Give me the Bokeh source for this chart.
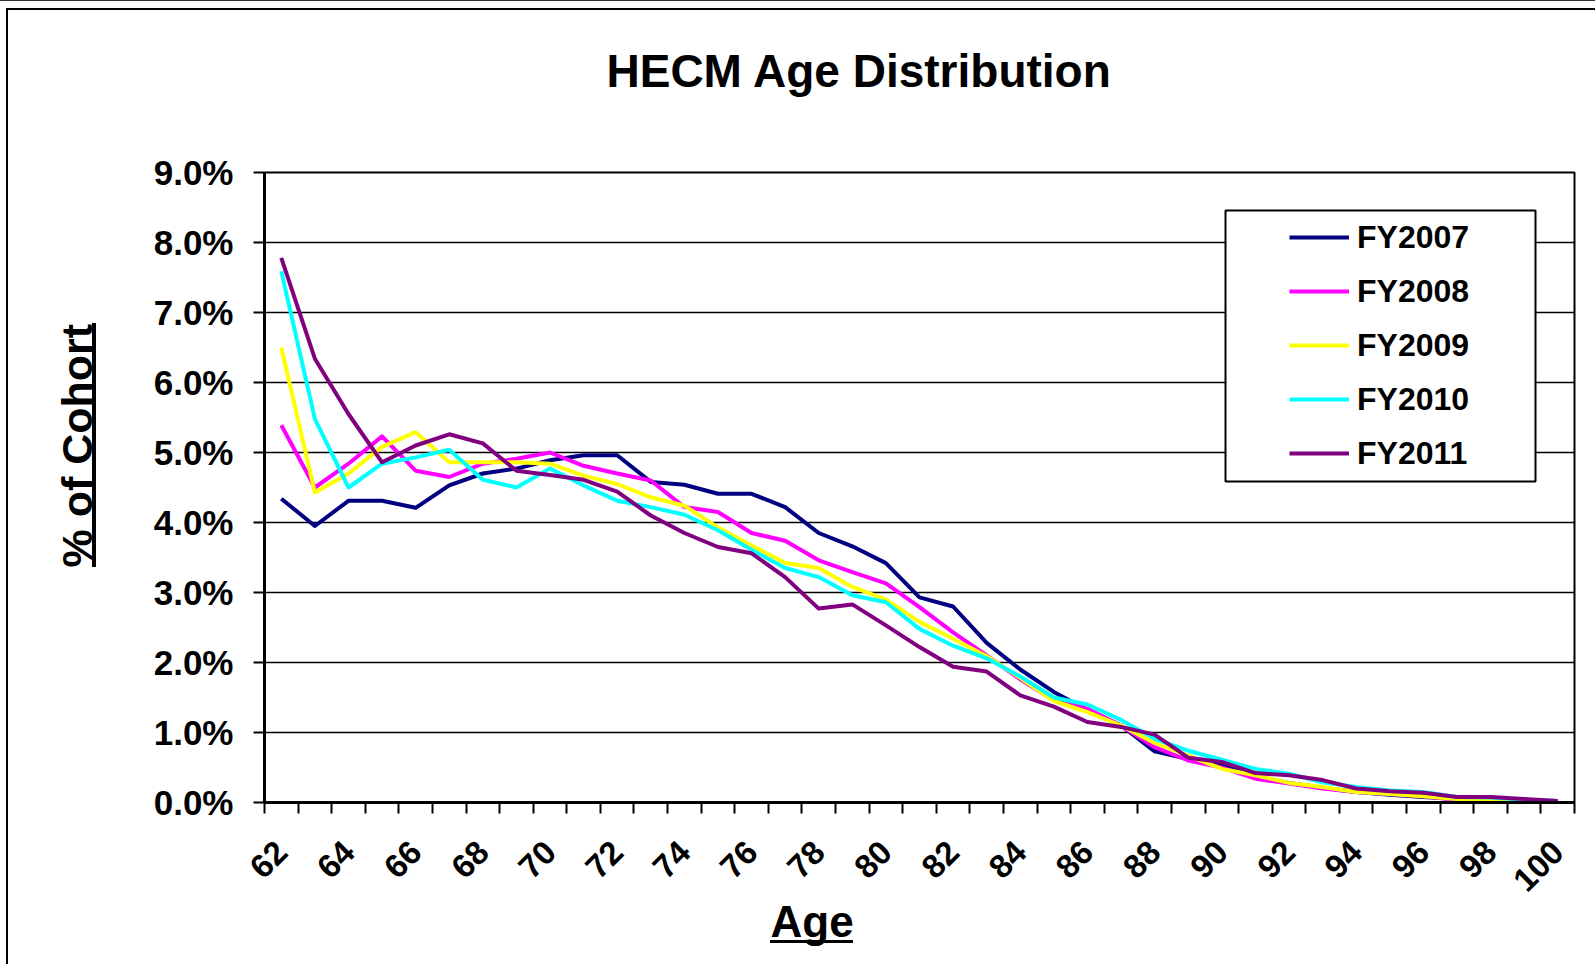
import math
from bokeh.plotting import figure
from bokeh.models import (Range1d, FixedTicker, PrintfTickFormatter, Title,
                          BoxAnnotation, Legend, LegendItem)
from bokeh.embed import file_html
from bokeh.resources import INLINE

# ---------------- data ----------------
ages = list(range(62, 101))
fy2007 = [4.34, 3.95, 4.31, 4.31, 4.21, 4.53, 4.70, 4.77, 4.89, 4.96,
          4.96, 4.58, 4.54, 4.41, 4.41, 4.22, 3.85, 3.66, 3.42, 2.93,
          2.80, 2.28, 1.90, 1.58, 1.32, 1.10, 0.73, 0.62, 0.53, 0.37,
          0.28, 0.21, 0.15, 0.11, 0.08, 0.05, 0.04, 0.03, 0.02]
fy2008 = [5.39, 4.50, 4.84, 5.23, 4.74, 4.65, 4.84, 4.91, 5.00, 4.81,
          4.70, 4.60, 4.22, 4.15, 3.85, 3.74, 3.46, 3.29, 3.13, 2.79,
          2.43, 2.10, 1.76, 1.46, 1.34, 1.10, 0.79, 0.60, 0.50, 0.34,
          0.27, 0.20, 0.15, 0.12, 0.09, 0.04, 0.03, 0.02, 0.01]
fy2009 = [6.50, 4.43, 4.70, 5.08, 5.29, 4.86, 4.86, 4.86, 4.84, 4.67,
          4.55, 4.36, 4.24, 3.93, 3.67, 3.42, 3.35, 3.08, 2.90, 2.58,
          2.34, 2.09, 1.78, 1.45, 1.29, 1.10, 0.85, 0.67, 0.48, 0.39,
          0.28, 0.22, 0.15, 0.12, 0.09, 0.05, 0.04, 0.03, 0.02]
fy2010 = [7.59, 5.48, 4.50, 4.84, 4.93, 5.04, 4.61, 4.50, 4.77, 4.53,
          4.31, 4.22, 4.11, 3.89, 3.61, 3.35, 3.22, 2.96, 2.86, 2.48,
          2.24, 2.06, 1.80, 1.50, 1.40, 1.18, 0.91, 0.74, 0.61, 0.48,
          0.41, 0.29, 0.22, 0.17, 0.15, 0.08, 0.07, 0.04, 0.02]
fy2011 = [7.78, 6.34, 5.55, 4.86, 5.10, 5.26, 5.13, 4.74, 4.68, 4.61,
          4.44, 4.10, 3.85, 3.65, 3.56, 3.22, 2.77, 2.83, 2.53, 2.22,
          1.94, 1.87, 1.53, 1.37, 1.15, 1.08, 0.97, 0.64, 0.58, 0.42,
          0.39, 0.32, 0.20, 0.16, 0.14, 0.08, 0.08, 0.05, 0.02]
series_names = ["FY2007", "FY2008", "FY2009", "FY2010", "FY2011"]
series_colors = ["#000080", "#FF00FF", "#FFFF00", "#00FFFF", "#800080"]
y_ticks = [0, 1, 2, 3, 4, 5, 6, 7, 8, 9]
x_label_ticks = ages[::2]
title_text = "HECM Age Distribution"
x_title = "Age"
y_title = "% of Cohort"

# ---------------- layout ----------------
W, H = 1595, 964
FL, FR, FT, FB = 264, 1574, 172, 802
X0, X1 = ages[0] - 0.5, ages[-1] + 0.5
Y0, Y1 = y_ticks[0], y_ticks[-1]
FONT = "Liberation Sans"


def dx(px):
    return X0 + (px - FL) * (X1 - X0) / (FR - FL)


def dy(py):
    return Y0 + (FB - py) * (Y1 - Y0) / (FB - FT)


p = figure(width=W, height=H, output_backend="svg", toolbar_location=None,
           x_range=Range1d(X0, X1), y_range=Range1d(Y0, Y1),
           min_border_left=FL, min_border_right=W - FR,
           min_border_top=FT, min_border_bottom=H - FB)
p.background_fill_color = "white"
p.border_fill_color = None
p.outline_line_color = "black"
p.outline_line_width = 2

# chart-area border and title underlines painted behind the canvas
bg_layers = [
    "linear-gradient(#333,#333) 0px 0px / 100% 1px no-repeat",
    "linear-gradient(#000,#000) 6px 8px / 100% 2px no-repeat",
    "linear-gradient(#000,#000) 6px 8px / 2px 100% no-repeat",
    "linear-gradient(#000,#000) 770px 940px / 83px 3px no-repeat",
    "linear-gradient(#000,#000) 92px 323px / 4px 244px no-repeat",
]
p.styles = {"background": ", ".join(bg_layers) + ", #ffffff"}

# spacer between the frame and the chart title
p.add_layout(Title(text=" ", standoff=63, text_font=FONT, text_font_size="10px"), "above")

# title
p.title.text = title_text
p.title.align = "left"
p.title.offset = 606 - FL
p.title.standoff = 0
p.title.text_font = FONT
p.title.text_font_style = "bold"
p.title.text_font_size = "46px"
p.title.text_color = "black"

# grid
p.xgrid.visible = False
p.ygrid.ticker = FixedTicker(ticks=y_ticks)
p.ygrid.grid_line_color = "black"
p.ygrid.grid_line_width = 1.5

# y axis
ya = p.yaxis[0]
ya.ticker = FixedTicker(ticks=y_ticks)
ya.formatter = PrintfTickFormatter(format="%.1f%%")
ya.axis_line_color = "black"
ya.axis_line_width = 3
ya.major_tick_out = 11
ya.major_tick_in = 0
ya.major_tick_line_width = 2
ya.minor_tick_out = 0
ya.minor_tick_in = 0
ya.major_label_standoff = 20
ya.major_label_text_font = FONT
ya.major_label_text_font_style = "bold"
ya.major_label_text_font_size = "35px"
ya.major_label_text_color = "black"

# x axis
xa = p.xaxis[0]
xa.ticker = FixedTicker(ticks=x_label_ticks,
                        minor_ticks=[a - 0.5 for a in ages] + [ages[-1] + 0.5])
xa.axis_line_color = "black"
xa.axis_line_width = 3
xa.major_tick_out = 0
xa.major_tick_in = 0
xa.minor_tick_out = 11
xa.minor_tick_in = 0
xa.minor_tick_line_width = 2
xa.minor_tick_line_color = "black"
xa.major_label_orientation = math.pi / 4
xa.major_label_standoff = 33
xa.major_label_text_font = FONT
xa.major_label_text_font_style = "bold"
xa.major_label_text_font_size = "33px"
xa.major_label_text_color = "black"

# axis titles
p.add_layout(Title(text=y_title, align="left", offset=FB - 567, standoff=99,
                   text_font=FONT, text_font_style="bold", text_font_size="43px",
                   text_color="black"), "left")
p.add_layout(Title(text=x_title, align="left", offset=770 - FL, standoff=-20,
                   text_font=FONT, text_font_style="bold", text_font_size="44px",
                   text_color="black"), "below")

# lines
renderers = []
for name, vals, col in zip(series_names, [fy2007, fy2008, fy2009, fy2010, fy2011], series_colors):
    r = p.line(ages, vals, line_color=col, line_width=4, line_join="round")
    renderers.append(r)

# legend frame
p.add_layout(BoxAnnotation(left=dx(1225), right=dx(1535), top=dy(210), bottom=dy(481),
                           fill_color="white", fill_alpha=1, line_color="black",
                           line_alpha=1, line_width=2))

legend = Legend(items=[LegendItem(label=n, renderers=[r]) for n, r in zip(series_names, renderers)],
                location=(1289 - FL, FB - 473), padding=0, margin=0, spacing=14,
                glyph_width=60, glyph_height=40, label_height=40, label_standoff=8,
                border_line_alpha=0, background_fill_alpha=0,
                label_text_font=FONT, label_text_font_style="bold",
                label_text_font_size="32px", label_text_color="black")
p.add_layout(legend)

open("out.html", "w").write(file_html(p, INLINE))
